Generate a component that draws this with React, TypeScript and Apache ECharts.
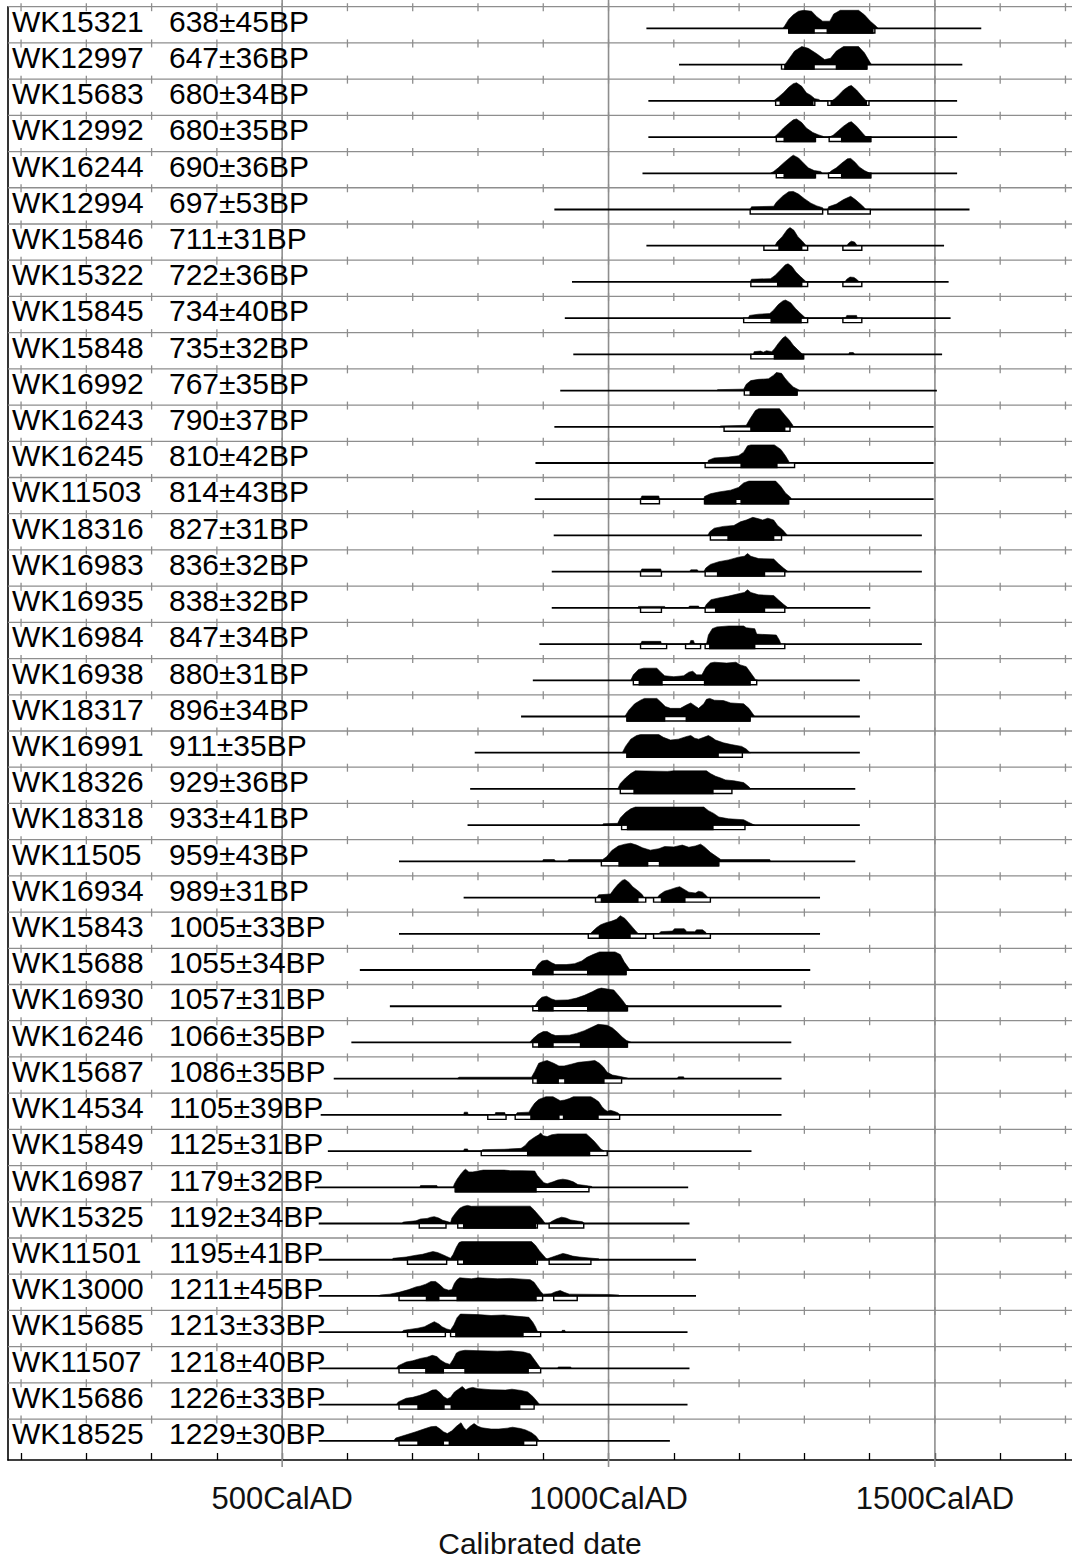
import React, { useEffect, useRef } from 'react';
import * as echarts from 'echarts';

const names = ['WK15321','WK12997','WK15683','WK12992','WK16244','WK12994','WK15846','WK15322','WK15845','WK15848','WK16992','WK16243','WK16245','WK11503','WK18316','WK16983','WK16935','WK16984','WK16938','WK18317','WK16991','WK18326','WK18318','WK11505','WK16934','WK15843','WK15688','WK16930','WK16246','WK15687','WK14534','WK15849','WK16987','WK15325','WK11501','WK13000','WK15685','WK11507','WK15686','WK18525'];
const bpLabels = ['638±45BP','647±36BP','680±34BP','680±35BP','690±36BP','697±53BP','711±31BP','722±36BP','734±40BP','735±32BP','767±35BP','790±37BP','810±42BP','814±43BP','827±31BP','836±32BP','838±32BP','847±34BP','880±31BP','896±34BP','911±35BP','929±36BP','933±41BP','959±43BP','989±31BP','1005±33BP','1055±34BP','1057±31BP','1066±35BP','1086±35BP','1105±39BP','1125±31BP','1179±32BP','1192±34BP','1195±41BP','1211±45BP','1213±33BP','1218±40BP','1226±33BP','1229±30BP'];

// full extent line of each row (cal AD)
const lineRanges = [[1058,1571],[1108,1542],[1061,1534],[1061,1534],[1052,1534],[917,1553],[1058,1514],[944,1521],[933,1524],[946,1511],[926,1503],[917,1498],[888,1498],[887,1498],[916,1480],[913,1480],[913,1401],[894,1480],[884,1385],[866,1385],[795,1385],[788,1378],[784,1385],[679,1378],[778,1324],[679,1324],[619,1309],[665,1265],[606,1280],[579,1265],[559,1265],[570,1219],[550,1122],[556,1124],[556,1134],[556,1134],[556,1121],[556,1124],[556,1121],[556,1094]];

// probability distributions: [year, relative height]
const dists = [
[[1267,0],[1270,.15],[1276,.5],[1283,.75],[1291,.95],[1299,1],[1311,.95],[1319,.65],[1328,.4],[1339,.4],[1345,.8],[1355,1],[1383,1],[1392,.75],[1401,.4],[1410,.12],[1413,0]],
[[1270,0],[1276,.3],[1285,.75],[1296,1],[1306,.9],[1319,.6],[1331,.28],[1340,.35],[1349,.75],[1360,1],[1383,1],[1392,.65],[1401,.1],[1403,0]],
[[1253,0],[1260,.2],[1268,.45],[1276,.75],[1283,.95],[1288,1],[1296,.8],[1303,.45],[1310,.3],[1316,.12],[1322,.08],[1325,0],[1342,0],[1346,.1],[1352,.3],[1360,.6],[1368,.8],[1372,.85],[1380,.6],[1386,.35],[1392,.1],[1395,0]],
[[1254,0],[1260,.2],[1268,.5],[1276,.75],[1283,.95],[1288,1],[1296,.8],[1303,.5],[1313,.25],[1322,.12],[1328,.05],[1330,0],[1338,0],[1344,.1],[1352,.35],[1360,.6],[1368,.8],[1372,.85],[1380,.6],[1386,.35],[1392,.1],[1395,0]],
[[1248,0],[1253,.1],[1260,.3],[1269,.6],[1279,.9],[1283,1],[1291,.85],[1299,.55],[1306,.3],[1315,.15],[1325,.1],[1328,0],[1337,0],[1342,.15],[1349,.3],[1357,.55],[1366,.8],[1371,.82],[1378,.6],[1384,.35],[1392,.15],[1398,.05],[1399,0]],
[[1217,0],[1219,.15],[1253,.18],[1257,.4],[1267,.75],[1276,.98],[1283,1],[1291,.85],[1300,.6],[1310,.35],[1319,.2],[1328,.1],[1329,0],[1336,0],[1337,.15],[1349,.3],[1360,.55],[1371,.73],[1378,.55],[1386,.3],[1392,.1],[1394,0]],
[[1255,0],[1258,.2],[1266,.5],[1274,.9],[1278,1],[1284,.85],[1290,.5],[1297,.25],[1301,.08],[1303,0],[1365,0],[1368,.15],[1372,.25],[1377,.2],[1380,.05],[1381,0]],
[[1217,0],[1219,.15],[1248,.18],[1255,.35],[1263,.65],[1271,.95],[1275,1],[1281,.85],[1287,.55],[1294,.3],[1300,.1],[1303,0],[1362,0],[1365,.15],[1370,.27],[1376,.25],[1381,.12],[1384,0]],
[[1214,0],[1216,.15],[1230,.22],[1247,.25],[1253,.45],[1260,.75],[1267,.95],[1271,1],[1279,.85],[1286,.55],[1293,.3],[1299,.1],[1302,0],[1363,0],[1365,.15],[1380,.15],[1381,0]],
[[1222,0],[1223,.15],[1233,.18],[1237,.12],[1242,.2],[1250,.15],[1254,.3],[1260,.6],[1267,.9],[1271,1],[1277,.8],[1283,.5],[1290,.25],[1296,.05],[1297,0],[1368,0],[1369,.1],[1375,.1],[1377,0]],
[[1166,0],[1167,.05],[1207,.08],[1211,.35],[1218,.55],[1230,.62],[1245,.65],[1253,.85],[1257,1],[1265,.95],[1270,.7],[1276,.45],[1283,.2],[1291,.05],[1293,0]],
[[1170,0],[1172,.05],[1211,.08],[1216,.4],[1225,.9],[1230,1],[1262,1],[1270,.65],[1276,.4],[1282,.1],[1283,0]],
[[1152,0],[1153,.15],[1162,.28],[1184,.33],[1199,.4],[1207,.6],[1213,.95],[1218,1],[1254,1],[1264,.75],[1271,.4],[1276,.1],[1277,0]],
[[1049,0],[1051,.18],[1077,.18],[1078,0],[1146,0],[1147,.15],[1156,.3],[1169,.4],[1187,.5],[1199,.65],[1207,.9],[1215,1],[1256,1],[1264,.7],[1271,.35],[1279,.1],[1280,0]],
[[1152,0],[1155,.2],[1162,.4],[1176,.5],[1192,.55],[1202,.75],[1211,.85],[1221,1],[1230,.92],[1236,.85],[1244,.95],[1253,.85],[1259,.55],[1267,.3],[1273,.05],[1274,0]],
[[1049,0],[1051,.15],[1080,.15],[1081,0],[1124,0],[1126,.1],[1136,.1],[1138,0],[1146,0],[1149,.2],[1156,.4],[1169,.55],[1184,.65],[1199,.8],[1208,.85],[1213,1],[1218,.85],[1230,.72],[1253,.7],[1260,.45],[1268,.2],[1274,.03],[1276,0]],
[[1044,0],[1046,.08],[1086,.08],[1087,0],[1122,0],[1124,.1],[1138,.1],[1139,0],[1147,0],[1150,.2],[1157,.45],[1169,.55],[1184,.65],[1199,.78],[1208,.85],[1213,1],[1218,.85],[1230,.72],[1253,.68],[1260,.45],[1268,.2],[1274,.03],[1276,0]],
[[1049,0],[1051,.15],[1080,.15],[1081,0],[1124,0],[1126,.2],[1130,.2],[1132,0],[1150,0],[1153,.5],[1159,.85],[1166,.95],[1184,1],[1207,1],[1211,.9],[1224,.85],[1227,.55],[1257,.5],[1262,.2],[1264,0]],
[[1034,0],[1038,.3],[1046,.6],[1054,.67],[1074,.67],[1080,.45],[1086,.25],[1100,.2],[1115,.25],[1123,.45],[1129,.5],[1135,.3],[1143,.3],[1149,.7],[1156,.95],[1162,1],[1181,.95],[1195,1],[1202,.85],[1211,.75],[1218,.4],[1224,.1],[1225,0]],
[[1025,0],[1031,.35],[1040,.7],[1049,.9],[1055,1],[1074,1],[1080,.8],[1087,.55],[1095,.45],[1110,.45],[1120,.65],[1126,.75],[1132,.6],[1138,.45],[1146,.7],[1150,.95],[1155,1],[1162,.9],[1176,.88],[1187,.75],[1207,.7],[1215,.45],[1221,.15],[1224,0]],
[[1021,0],[1026,.35],[1034,.75],[1043,.95],[1049,1],[1077,1],[1084,.85],[1095,.7],[1107,.75],[1120,.9],[1126,.95],[1132,.8],[1138,.75],[1146,.85],[1153,.95],[1158,.85],[1164,.7],[1176,.55],[1188,.45],[1204,.35],[1211,.2],[1216,.03],[1218,0]],
[[1014,0],[1018,.3],[1026,.6],[1034,.85],[1041,1],[1090,.97],[1100,1],[1150,1],[1156,.85],[1164,.7],[1172,.6],[1179,.5],[1192,.45],[1207,.35],[1215,.12],[1218,0]],
[[991,0],[992,.08],[1014,.1],[1018,.4],[1026,.7],[1034,.9],[1041,1],[1146,1],[1153,.8],[1161,.65],[1169,.45],[1184,.35],[1207,.3],[1215,.15],[1222,.03],[1224,0]],
[[899,0],[900,.1],[917,.1],[919,0],[937,0],[939,.1],[991,.1],[997,.25],[1005,.6],[1015,.85],[1025,.95],[1034,1],[1043,.9],[1052,.75],[1064,.62],[1077,.7],[1086,.82],[1100,.8],[1113,.9],[1123,.78],[1133,.85],[1141,.95],[1147,.8],[1156,.5],[1166,.25],[1172,.1],[1247,.1],[1248,0]],
[[982,0],[985,.15],[1003,.2],[1009,.5],[1015,.75],[1021,.95],[1025,1],[1031,.85],[1037,.6],[1046,.35],[1052,.15],[1054,0],[1075,0],[1078,.15],[1086,.35],[1095,.45],[1103,.55],[1109,.6],[1116,.45],[1123,.3],[1133,.25],[1138,.35],[1144,.3],[1150,.1],[1152,0]],
[[972,0],[976,.15],[982,.35],[988,.5],[995,.6],[1005,.7],[1012,.8],[1018,1],[1025,.85],[1031,.6],[1037,.35],[1043,.1],[1046,0],[1077,0],[1080,.12],[1098,.15],[1101,.28],[1116,.28],[1120,.12],[1132,.12],[1135,.22],[1144,.22],[1149,.08],[1150,0]],
[[887,0],[892,.3],[898,.5],[906,.55],[913,.4],[919,.3],[935,.3],[948,.35],[959,.5],[967,.7],[976,.85],[986,1],[1010,1],[1018,.85],[1024,.45],[1030,.15],[1033,0]],
[[887,0],[892,.3],[898,.5],[905,.55],[913,.4],[919,.33],[938,.35],[951,.45],[963,.6],[975,.8],[983,.95],[989,1],[998,.95],[1008,.9],[1014,.65],[1021,.35],[1027,.05],[1029,0]],
[[879,0],[884,.2],[892,.45],[900,.6],[906,.6],[913,.45],[919,.38],[940,.4],[951,.5],[963,.65],[975,.85],[984,1],[998,.95],[1006,.8],[1014,.55],[1021,.3],[1027,.12],[1033,.03],[1035,0]],
[[768,0],[771,.08],[882,.08],[887,.4],[893,.85],[900,.95],[906,1],[916,.85],[924,.7],[932,.7],[943,.8],[954,.9],[967,.95],[979,1],[986,.85],[992,.65],[998,.35],[1006,.2],[1018,.12],[1029,.03],[1030,0],[1105,0],[1107,.1],[1115,.1],[1116,0]],
[[778,0],[779,.15],[784,.15],[785,0],[826,0],[827,.13],[841,.13],[842,0],[858,0],[860,.12],[878,.15],[882,.4],[887,.65],[893,.85],[900,.95],[904,1],[915,1],[920,.9],[926,.78],[933,.82],[940,.9],[946,1],[973,1],[979,.88],[985,.72],[990,.45],[994,.3],[998,.2],[1003,.25],[1008,.2],[1014,.12],[1017,.03],[1018,0]],
[[778,0],[779,.12],[784,.12],[785,0],[806,0],[807,.08],[840,.1],[866,.15],[872,.3],[878,.55],[886,.75],[893,.9],[896,1],[900,.85],[906,.8],[913,.9],[922,.95],[966,.95],[972,.75],[978,.55],[984,.3],[988,.12],[992,.03],[993,0]],
[[711,0],[712,.1],[737,.1],[738,0],[762,0],[764,.2],[768,.45],[774,.75],[779,.95],[781,1],[786,.85],[792,.85],[800,.9],[808,.95],[840,.95],[850,.92],[866,.92],[887,.9],[891,.65],[896,.45],[901,.25],[906,.2],[915,.3],[922,.4],[930,.45],[938,.4],[946,.3],[953,.15],[965,.1],[974,.05],[975,0]],
[[683,0],[686,.08],[705,.15],[712,.25],[722,.28],[728,.35],[733,.38],[740,.3],[746,.18],[752,.12],[758,.05],[760,.3],[766,.6],[772,.85],[778,.95],[784,1],[790,.95],[800,.96],[880,.96],[886,.75],[892,.5],[898,.25],[902,.05],[903,0],[909,0],[912,.1],[920,.25],[928,.35],[935,.3],[942,.2],[950,.15],[960,.1],[963,0]],
[[668,0],[670,.08],[690,.15],[705,.25],[715,.3],[725,.4],[731,.45],[738,.4],[746,.28],[752,.18],[758,.08],[762,.3],[767,.7],[771,.95],[775,1],[882,1],[888,.8],[894,.5],[900,.25],[904,.08],[906,.05],[914,.15],[922,.25],[930,.35],[936,.3],[945,.2],[955,.15],[970,.1],[985,.05],[986,0]],
[[648,0],[650,.05],[665,.1],[679,.2],[694,.35],[705,.5],[712,.55],[720,.65],[728,.8],[735,.8],[742,.6],[748,.4],[755,.32],[760,.35],[764,.7],[768,.9],[772,1],[790,.95],[800,1],[830,.95],[850,.97],[880,.9],[886,.75],[891,.5],[896,.25],[900,.1],[912,.12],[918,.22],[926,.3],[932,.2],[940,.1],[1000,.08],[1016,.05],[1017,0]],
[[683,0],[686,.1],[695,.15],[708,.22],[718,.3],[726,.45],[733,.58],[740,.45],[745,.3],[752,.18],[758,.12],[763,.4],[768,.8],[773,1],[800,.97],[820,.92],[840,.95],[852,.9],[870,.85],[878,.82],[884,.55],[888,.3],[891,.05],[892,0],[928,0],[929,.1],[933,.1],[934,0]],
[[675,0],[678,.15],[690,.35],[700,.42],[712,.55],[722,.62],[730,.72],[737,.65],[743,.45],[750,.3],[757,.22],[762,.5],[767,.85],[772,.95],[780,1],[800,.98],[830,.95],[850,.97],[870,.9],[880,.8],[886,.5],[891,.25],[895,.05],[896,0],[922,0],[923,.08],[942,.08],[943,0]],
[[675,0],[678,.15],[690,.35],[700,.4],[710,.5],[722,.65],[730,.8],[736,.82],[742,.65],[747,.45],[753,.32],[758,.4],[764,.7],[770,.85],[776,1],[781,.82],[786,.9],[792,.95],[800,.88],[820,.82],[842,.8],[852,.85],[866,.78],[876,.7],[884,.45],[890,.2],[894,.02],[895,0]],
[[671,0],[674,.15],[689,.32],[705,.5],[717,.65],[728,.78],[736,.8],[742,.65],[747,.5],[753,.4],[760,.55],[767,.8],[774,1],[778,.75],[782,.6],[788,.8],[794,.95],[800,.8],[806,.72],[820,.65],[832,.65],[845,.7],[853,.75],[865,.68],[873,.6],[882,.45],[889,.25],[893,.05],[894,0]]
];

// 95.4% ranges (outlined) and 68.2% ranges (filled)
const ranges95 = [[[1276,1408]],[[1265,1396]],[[1256,1316],[1336,1399]],[[1257,1317],[1338,1402]],[[1257,1317],[1337,1402]],[[1217,1328],[1336,1401]],[[1238,1305],[1359,1388]],[[1218,1305],[1359,1388]],[[1207,1305],[1359,1388]],[[1218,1299]],[[1208,1289]],[[1177,1278]],[[1148,1285]],[[1049,1078],[1147,1276]],[[1156,1265]],[[1049,1081],[1148,1270]],[[1049,1081],[1148,1270]],[[1049,1089],[1118,1141],[1148,1270]],[[1038,1227]],[[1028,1217]],[[1028,1205]],[[1018,1189]],[[1020,1209]],[[989,1169]],[[980,1057],[1069,1156]],[[969,1057],[1069,1156]],[[884,1027]],[[884,1029]],[[884,1029]],[[884,1020]],[[815,843],[857,1017]],[[805,998]],[[765,970]],[[710,751],[769,891],[909,962]],[[692,752],[769,891],[909,973]],[[679,899],[916,952]],[[692,750],[758,896]],[[679,896]],[[679,886]],[[679,890]]];
const ranges68 = [[[1276,1316],[1334,1406]],[[1269,1316],[1348,1396]],[[1262,1314],[1340,1396]],[[1268,1317],[1356,1402]],[[1268,1317],[1356,1402]],[],[[1260,1297]],[[1258,1297]],[[1248,1296]],[[1253,1299]],[[1216,1289]],[[1217,1271]],[[1202,1259]],[[1147,1196],[1202,1276]],[[1182,1254]],[[1166,1240]],[[1163,1240]],[[1154,1225]],[[1046,1083],[1146,1218]],[[1028,1087],[1118,1217]],[[1028,1169]],[[1038,1161]],[[1028,1161]],[[1015,1061],[1077,1169]],[[988,1046],[1080,1118]],[[985,1034]],[[884,916],[967,1027]],[[892,916],[967,1029]],[[892,916],[956,1029]],[[890,924],[932,994]],[[880,925],[930,985]],[[875,972]],[[765,890]],[[777,889]],[[777,889]],[[720,741],[767,890]],[[765,870]],[[719,748],[779,878]],[[707,749],[758,865]],[[707,748],[755,871]]];

const tickYears = [100,200,300,400,500,600,700,800,900,1000,1100,1200,1300,1400,1500,1600,1700];
const majorYears = [500,1000,1500];
const labelYears = [500,1000,1500];

const X_MIN = 80;
const X_MAX = 1710;
const Y_MAX = 40.13;
const FONT = '"Liberation Sans", Arial, sans-serif';

export default function App() {
  const ref = useRef<HTMLDivElement>(null);
  useEffect(() => {
    if (!ref.current) return;
    const chart = echarts.init(ref.current, null, { renderer: 'svg' });
    const GRAY = '#8e8e8e';

    const majorSeries = {
      type: 'custom',
      coordinateSystem: 'cartesian2d',
      silent: true,
      z: 1,
      data: majorYears.map((y) => [y, 0]),
      renderItem: (params: any, api: any) => {
        const yr = api.value(0);
        const top = api.coord([yr, 0]);
        const bot = api.coord([yr, Y_MAX]);
        return {
          type: 'line',
          shape: { x1: top[0], y1: 0, x2: top[0], y2: bot[1] + 7 },
          style: { stroke: GRAY, lineWidth: 1.6 },
        };
      },
    };

    const rowLineSeries = {
      type: 'custom',
      coordinateSystem: 'cartesian2d',
      silent: true,
      z: 2,
      data: names.map((_, i) => [X_MIN, i]),
      renderItem: (params: any, api: any) => {
        const i = params.dataIndex;
        const a = api.coord([X_MIN, i]);
        const b = api.coord([X_MAX, i]);
        const children: any[] = [
          { type: 'line', shape: { x1: a[0], y1: a[1], x2: b[0], y2: b[1] }, style: { stroke: GRAY, lineWidth: 1.3 } },
        ];
        tickYears.forEach((t) => {
          const p = api.coord([t, i]);
          children.push({ type: 'line', shape: { x1: p[0], y1: p[1] - 3.5, x2: p[0], y2: p[1] + 4.5 }, style: { stroke: GRAY, lineWidth: 1.3 } });
        });
        return { type: 'group', children };
      },
    };

    const H = 0.5;
    const BAR = 4.5;
    const rowSeries = {
      type: 'custom',
      coordinateSystem: 'cartesian2d',
      silent: true,
      z: 3,
      data: names.map((_, i) => [lineRanges[i][0], i]),
      renderItem: (params: any, api: any) => {
        const i = params.dataIndex;
        const base = i + 0.6;
        const children: any[] = [];
        const ty = api.coord([X_MIN, i + 0.4])[1];
        children.push({
          type: 'text',
          style: { x: 12, y: ty, text: names[i], font: `30px ${FONT}`, fill: '#000', align: 'left', verticalAlign: 'middle' },
        });
        children.push({
          type: 'text',
          style: { x: 169, y: ty, text: bpLabels[i], font: `30px ${FONT}`, fill: '#000', align: 'left', verticalAlign: 'middle' },
        });
        const l0 = api.coord([lineRanges[i][0], base]);
        const l1 = api.coord([lineRanges[i][1], base]);
        children.push({
          type: 'line',
          shape: { x1: l0[0], y1: l0[1], x2: l1[0], y2: l1[1] },
          style: { stroke: '#000', lineWidth: 1.8 },
        });
        ranges95[i].forEach((r) => {
          const p0 = api.coord([r[0], base]);
          const p1 = api.coord([r[1], base]);
          children.push({
            type: 'rect',
            shape: { x: p0[0], y: p0[1], width: p1[0] - p0[0], height: BAR },
            style: { fill: '#fff', stroke: '#000', lineWidth: 1.4 },
          });
        });
        ranges68[i].forEach((r) => {
          const p0 = api.coord([r[0], base]);
          const p1 = api.coord([r[1], base]);
          children.push({
            type: 'rect',
            shape: { x: p0[0], y: p0[1] - 0.5, width: p1[0] - p0[0], height: BAR + 1.2 },
            style: { fill: '#000' },
          });
        });
        const pts = dists[i].map((d) => api.coord([d[0], base - d[1] * H]));
        children.push({
          type: 'polygon',
          shape: { points: pts },
          style: { fill: '#000', stroke: '#000', lineWidth: 0.6 },
        });
        return { type: 'group', children };
      },
    };

    chart.setOption({
      animation: false,
      backgroundColor: '#fff',
      grid: { left: 8, right: 0, top: 6.7, bottom: 101.3, containLabel: false },
      xAxis: {
        type: 'value',
        min: X_MIN,
        max: X_MAX,
        axisLine: { show: true, onZero: false, lineStyle: { color: '#000', width: 1.6 } },
        axisTick: { show: true, inside: true, length: 7, customValues: tickYears, lineStyle: { color: '#000', width: 1.3 } },
        axisLabel: {
          show: true,
          customValues: labelYears,
          formatter: (v: number) => `${v}CalAD`,
          fontSize: 31,
          fontFamily: FONT,
          color: '#111',
          margin: 38,
          verticalAlign: 'middle',
        },
        splitLine: { show: false },
        name: 'Calibrated date',
        nameLocation: 'middle',
        nameGap: 83,
        nameTextStyle: { fontSize: 30, fontFamily: FONT, color: '#111', verticalAlign: 'middle' },
      },
      yAxis: {
        type: 'value',
        min: 0,
        max: Y_MAX,
        inverse: true,
        axisLine: { show: true, lineStyle: { color: '#000', width: 1.6 } },
        axisTick: { show: false },
        axisLabel: { show: false },
        splitLine: { show: false },
      },
      series: [majorSeries, rowLineSeries, rowSeries],
    } as any);
    return () => chart.dispose();
  }, []);
  return <div ref={ref} style={{ position: 'absolute', left: 0, top: 0, width: 1072, height: 1563, background: '#fff' }} />;
}
